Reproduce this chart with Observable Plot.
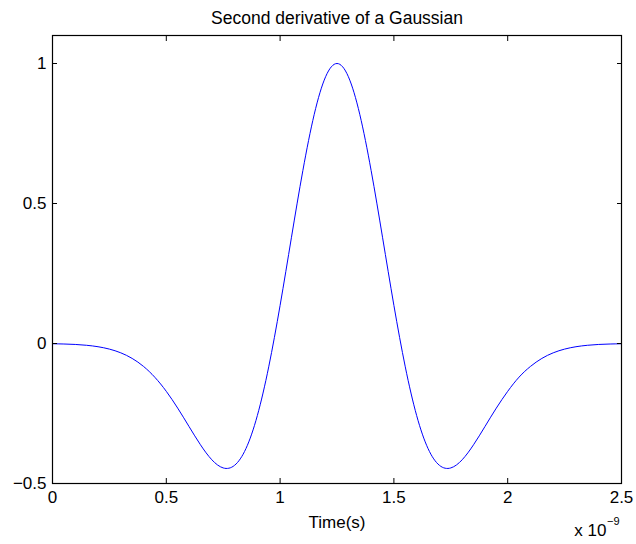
<!DOCTYPE html>
<html>
<head>
<meta charset="utf-8">
<script src="https://cdn.jsdelivr.net/npm/d3@7"></script>
<script src="https://cdn.jsdelivr.net/npm/@observablehq/plot@0.6"></script>
<style>
  html, body { margin: 0; padding: 0; background: white; }
</style>
</head>
<body>
<div id="chart"></div>
<script>
// Time in units of 1e-9 s
const time = [0, 0.05, 0.1, 0.15, 0.2, 0.25, 0.3, 0.35, 0.4, 0.45, 0.5, 0.55, 0.6, 0.65, 0.7, 0.75, 0.8, 0.85, 0.9, 0.95, 1, 1.05, 1.1, 1.15, 1.2, 1.25, 1.3, 1.35, 1.4, 1.45, 1.5, 1.55, 1.6, 1.65, 1.7, 1.75, 1.8, 1.85, 1.9, 1.95, 2, 2.05, 2.1, 2.15, 2.2, 2.25, 2.3, 2.35, 2.4, 2.45, 2.5];
const amplitude = [-0.0009, -0.0018, -0.0034, -0.0064, -0.0115, -0.0200, -0.0333, -0.0533, -0.0819, -0.1209, -0.1709, -0.2307, -0.2966, -0.3616, -0.4152, -0.4444, -0.4351, -0.3752, -0.2575, -0.0833, 0.1361, 0.3795, 0.6177, 0.8186, 0.9528, 1.0000, 0.9528, 0.8186, 0.6177, 0.3795, 0.1361, -0.0833, -0.2575, -0.3752, -0.4351, -0.4444, -0.4152, -0.3616, -0.2966, -0.2307, -0.1709, -0.1200, -0.0819, -0.0533, -0.0333, -0.0200, -0.0115, -0.0064, -0.0034, -0.0018, -0.0009];
const xTicks = [0, 0.5, 1, 1.5, 2, 2.5];
const yTicks = [-0.5, 0, 0.5, 1];
const titleText = "Second derivative of a Gaussian";
const xLabel = "Time(s)";
const xExponentBase = "x 10";
const xExponent = "\u22129";

const data = time.map((t, i) => ({t, v: amplitude[i]}));
const fmt = d => d < 0 ? "\u2212" + String(-d) : String(d);

const chart = Plot.plot({
  width: 636,
  height: 544,
  marginTop: 35,
  marginLeft: 52,
  marginRight: 15,
  marginBottom: 61,
  style: {fontFamily: "'Liberation Sans', Arial, sans-serif", fontSize: "17px", color: "black", background: "white", overflow: "visible"},
  x: {domain: [0, 2.5]},
  y: {domain: [-0.5, 1.1]},
  marks: [
    Plot.line(data, {x: "t", y: "v", stroke: "#0000ff", strokeWidth: 1, curve: "natural"}),
    Plot.axisX(xTicks, {anchor: "bottom", tickSize: -5, tickPadding: 12, label: null, tickFormat: fmt, stroke: "black"}),
    Plot.axisX(xTicks, {anchor: "top", tickSize: -5, text: null, label: null, stroke: "black"}),
    Plot.axisY(yTicks, {anchor: "left", tickSize: -5, tickPadding: 11, label: null, tickFormat: fmt, stroke: "black"}),
    Plot.axisY(yTicks, {anchor: "right", tickSize: -5, text: null, label: null, stroke: "black"}),
    Plot.frame({stroke: "black", strokeWidth: 1.2}),
    Plot.text([titleText], {frameAnchor: "top", lineAnchor: "bottom", dy: -12, fill: "black", fontSize: 17.5}),
    Plot.text([xLabel], {frameAnchor: "bottom", lineAnchor: "bottom", dy: 44, fill: "black", fontSize: 17}),
    Plot.text([xExponentBase], {frameAnchor: "bottom-right", textAnchor: "end", lineAnchor: "bottom", dy: 52, dx: -15, fill: "black", fontSize: 17}),
    Plot.text([xExponent], {frameAnchor: "bottom-right", textAnchor: "end", lineAnchor: "bottom", dy: 41, dx: -2, fill: "black", fontSize: 11})
  ]
});
document.getElementById("chart").appendChild(chart);
</script>
</body>
</html>
